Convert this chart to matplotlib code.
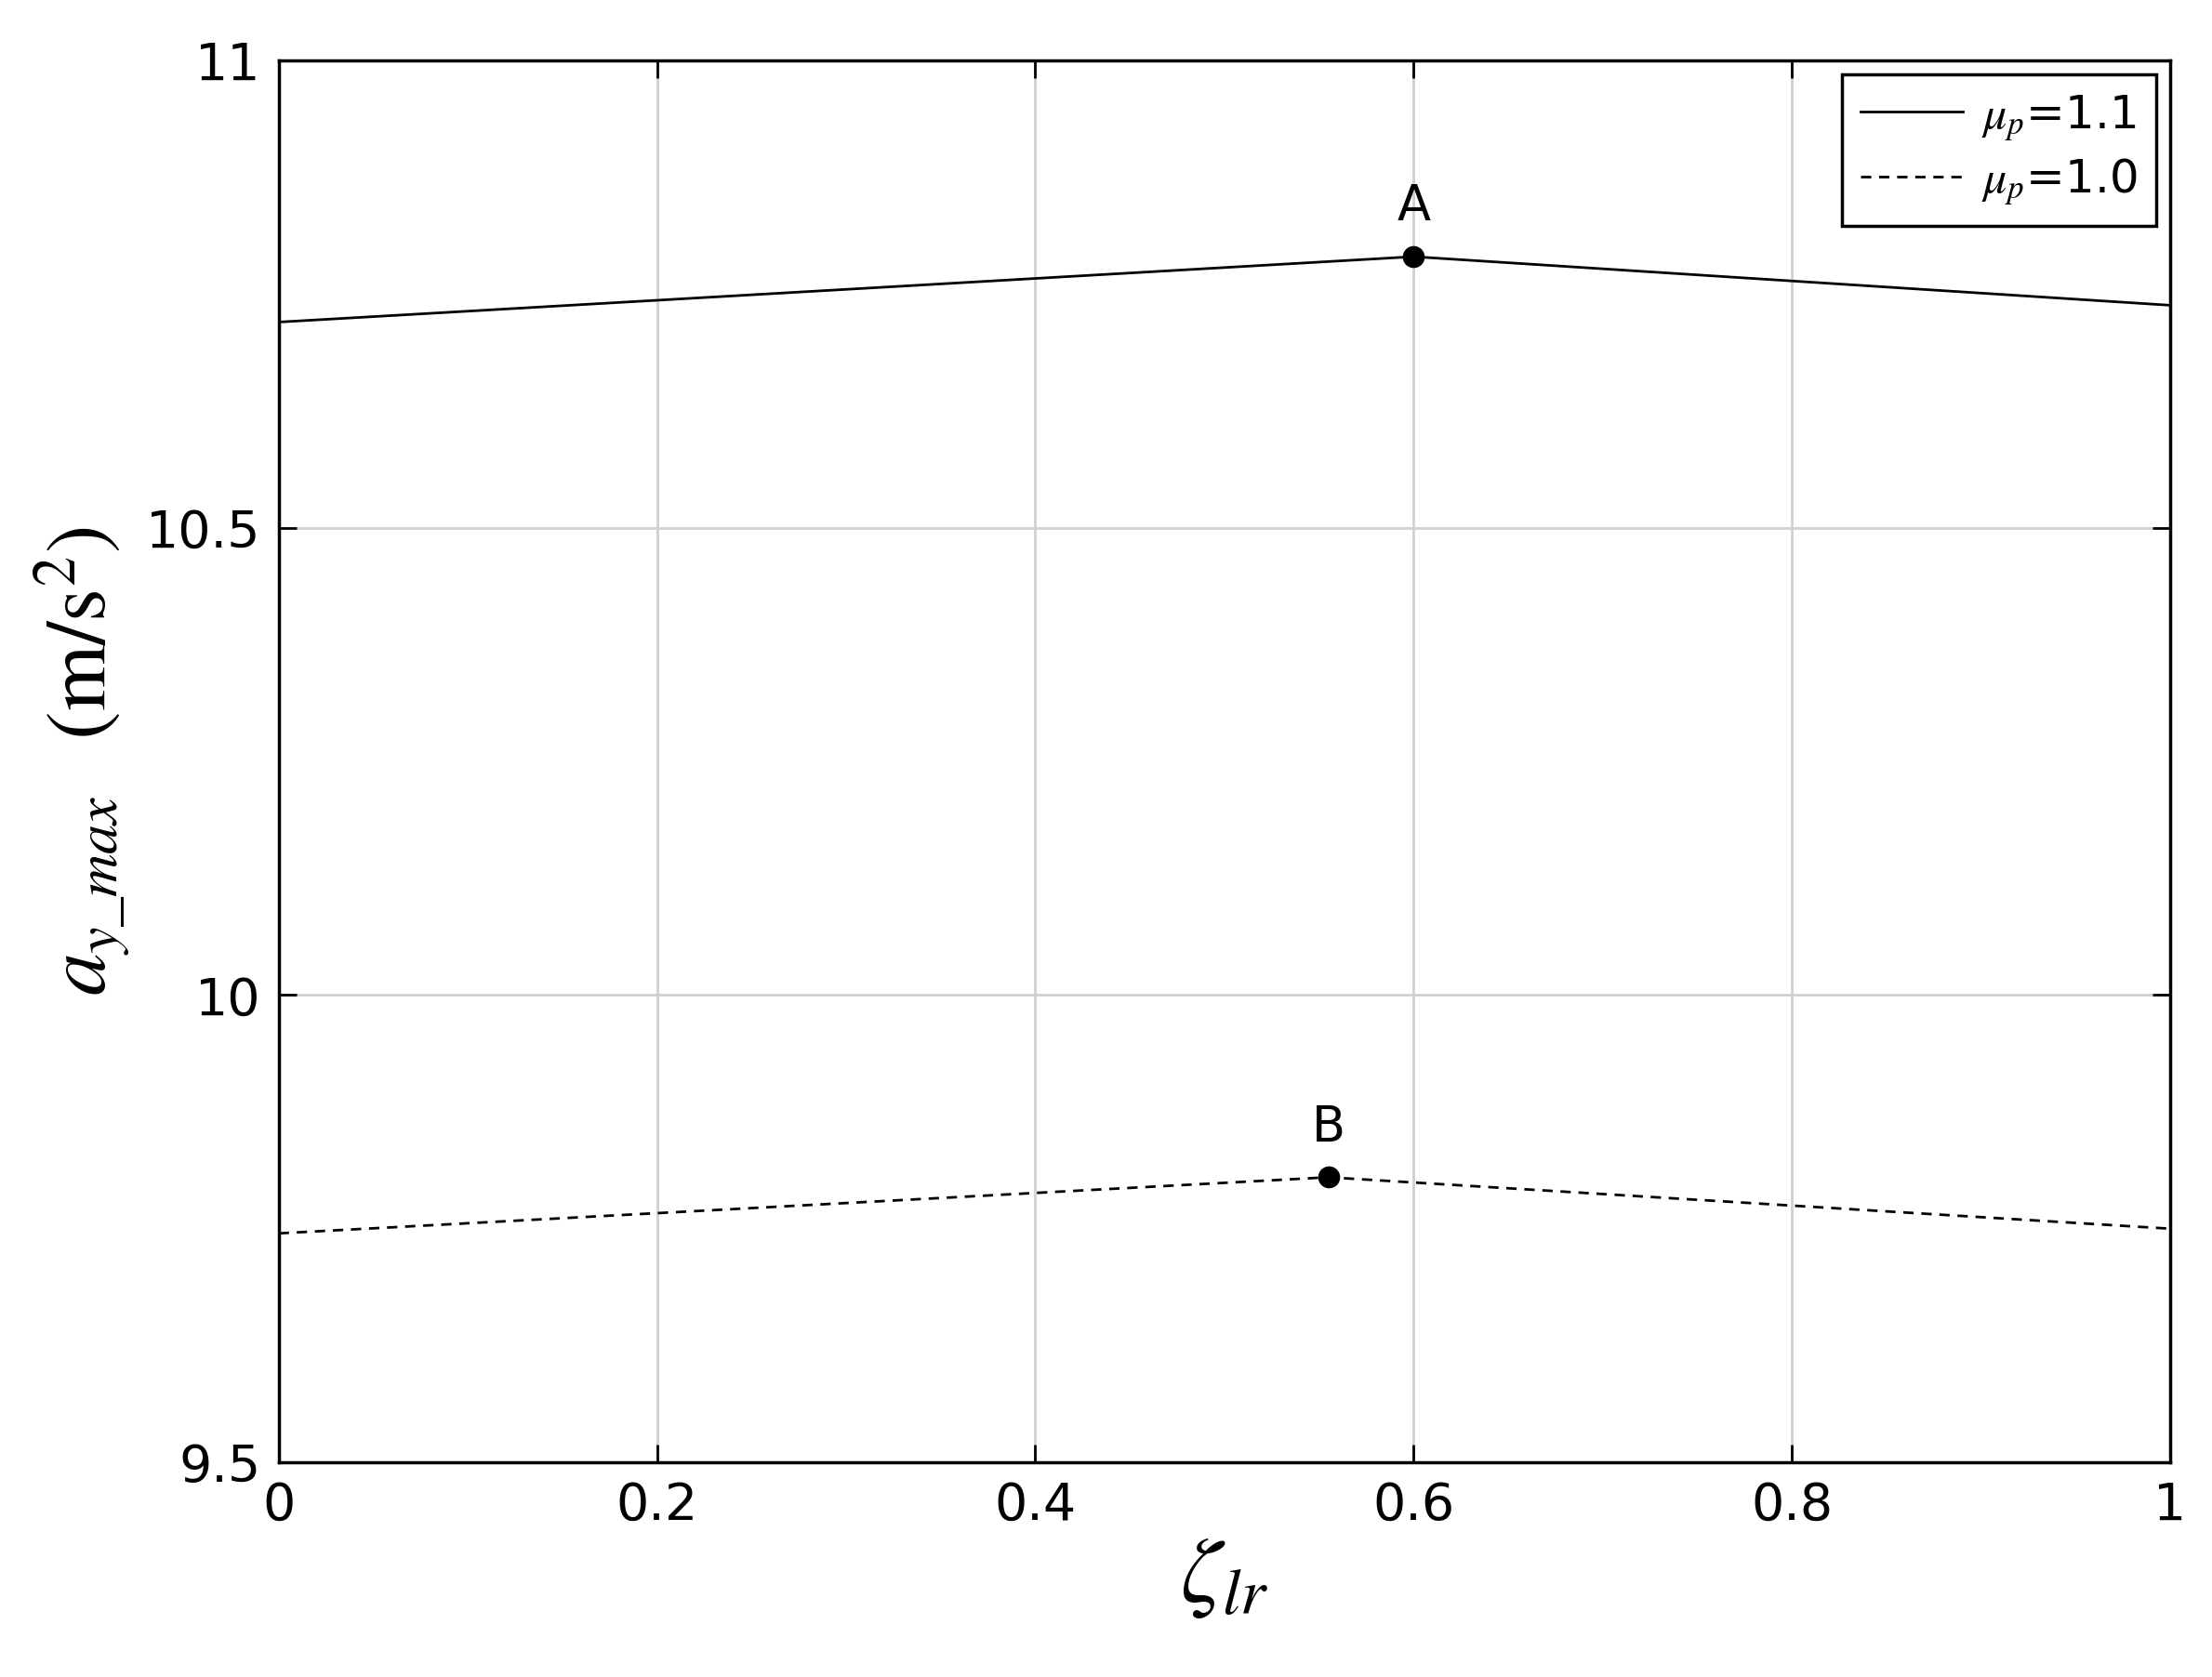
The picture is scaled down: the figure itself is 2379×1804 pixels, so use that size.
import matplotlib
matplotlib.use('Agg')
from matplotlib import pyplot as plt

plt.rcParams['mathtext.fontset'] = 'stix'

zeta_a = [0.0, 0.6, 1.0]
ay_a = [10.72, 10.79, 10.738]
zeta_b = [0.0, 0.555, 1.0]
ay_b = [9.745, 9.805, 9.75]
peak_a = (0.6, 10.79)
peak_b = (0.555, 9.805)

fig = plt.figure(figsize=(23.79, 18.04), dpi=100)
ax = fig.add_axes([0.126, 0.128, 0.855, 0.836])

ax.plot(zeta_a, ay_a, 'k-', lw=2, label=r'$\mu_p$=1.1')
ax.plot(zeta_b, ay_b, 'k--', lw=2, dashes=(4, 3), label=r'$\mu_p$=1.0')
ax.plot(*peak_a, 'ko', ms=16)
ax.plot(*peak_b, 'ko', ms=16)
ax.annotate('A', peak_a, xytext=(0, 28), textcoords='offset points', ha='center', fontsize=38)
ax.annotate('B', peak_b, xytext=(0, 28), textcoords='offset points', ha='center', fontsize=38)

ax.set_xlim(0, 1)
ax.set_ylim(9.5, 11)
ax.set_xticks([0, 0.2, 0.4, 0.6, 0.8, 1])
ax.set_xticklabels(['0', '0.2', '0.4', '0.6', '0.8', '1'])
ax.set_yticks([9.5, 10, 10.5, 11])
ax.set_yticklabels(['9.5', '10', '10.5', '11'])
ax.tick_params(labelsize=40, direction='in', length=14, width=2, top=True, right=True, pad=14)
ax.grid(True, color='#d0d0d0', lw=2)
for s in ax.spines.values():
    s.set_linewidth(2.5)

ax.set_xlabel(r'$\zeta_{lr}$', fontsize=72, labelpad=0)
ax.set_ylabel(r'$a_{y\_max}$  $\mathrm{(m/s^2)}$', fontsize=66, labelpad=10)

leg = ax.legend(loc='upper right', fontsize=36, fancybox=False, framealpha=1,
                edgecolor='k', handlelength=2.2, handletextpad=0.4,
                labelspacing=0.3, borderaxespad=0.3)
leg.get_frame().set_linewidth(2.5)

fig.savefig('out.png')
